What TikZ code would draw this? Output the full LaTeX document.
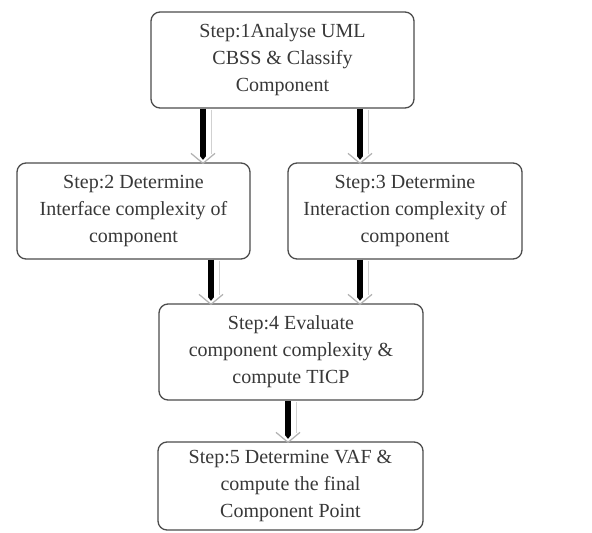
\documentclass[tikz,border=0pt]{standalone}
\usepackage{fontspec}
\setmainfont{Liberation Serif}
\newfontfamily\stepfont{Liberation Serif}
\begin{document}
\begin{tikzpicture}[x=1pt,y=-1pt,
  stepbox/.style={draw=black!70, line width=1.3pt, rounded corners=9pt,
    align=center, inner sep=0pt, text=black!78,
    font=\stepfont\fontsize{20}{27}\selectfont},
  shaft/.style={line width=6pt, black},
  shadowline/.style={line width=0.8pt, black!18},
  chev/.style={line width=1.2pt, black!30}]
\useasboundingbox (0,0) rectangle (592,533);
\fill[white] (0,0) rectangle (592,533);

\node[stepbox, minimum width=263pt, minimum height=96pt] (b1) at (282.5,60)
  {Step:1Analyse UML\\CBSS \& Classify\\Component};
\node[stepbox, minimum width=233pt, minimum height=96pt] (b2) at (133.5,211)
  {Step:2 Determine\\Interface complexity of\\component};
\node[stepbox, minimum width=234pt, minimum height=96pt] (b3) at (405,211)
  {Step:3 Determine\\Interaction complexity of\\component};
\node[stepbox, minimum width=264pt, minimum height=96pt] (b4) at (291,352)
  {Step:4 Evaluate\\component complexity \&\\compute TICP};
\node[stepbox, minimum width=265pt, minimum height=88pt] (b5) at (290.5,486)
  {Step:5 Determine VAF \&\\compute the final\\Component Point};

\coordinate (c1) at (203,0);
\coordinate (c2) at (360,0);
\coordinate (c3) at (211,0);
\coordinate (c4) at (360,0);
\coordinate (c5) at (288,0);

\newcommand\flowarrow[3]{%
  \draw[shadowline] ([xshift=8pt,yshift=-1pt]#2.south -| #1) -- ([xshift=8pt,yshift=8pt]#3.north -| #1);
  \draw[shaft] (#2.south -| #1) -- ([yshift=6pt]#3.north -| #1);
  \fill[black] ([xshift=-3pt,yshift=6.2pt]#3.north -| #1) -- ([yshift=2.5pt]#3.north -| #1) -- ([xshift=3pt,yshift=6.2pt]#3.north -| #1) -- cycle;
  \draw[chev] ([xshift=-12pt,yshift=9pt]#3.north -| #1) -- ([yshift=-1pt]#3.north -| #1) -- ([xshift=12pt,yshift=9pt]#3.north -| #1);
}
\flowarrow{c1}{b1}{b2}
\flowarrow{c2}{b1}{b3}
\flowarrow{c3}{b2}{b4}
\flowarrow{c4}{b3}{b4}
\flowarrow{c5}{b4}{b5}
\end{tikzpicture}
\end{document}
